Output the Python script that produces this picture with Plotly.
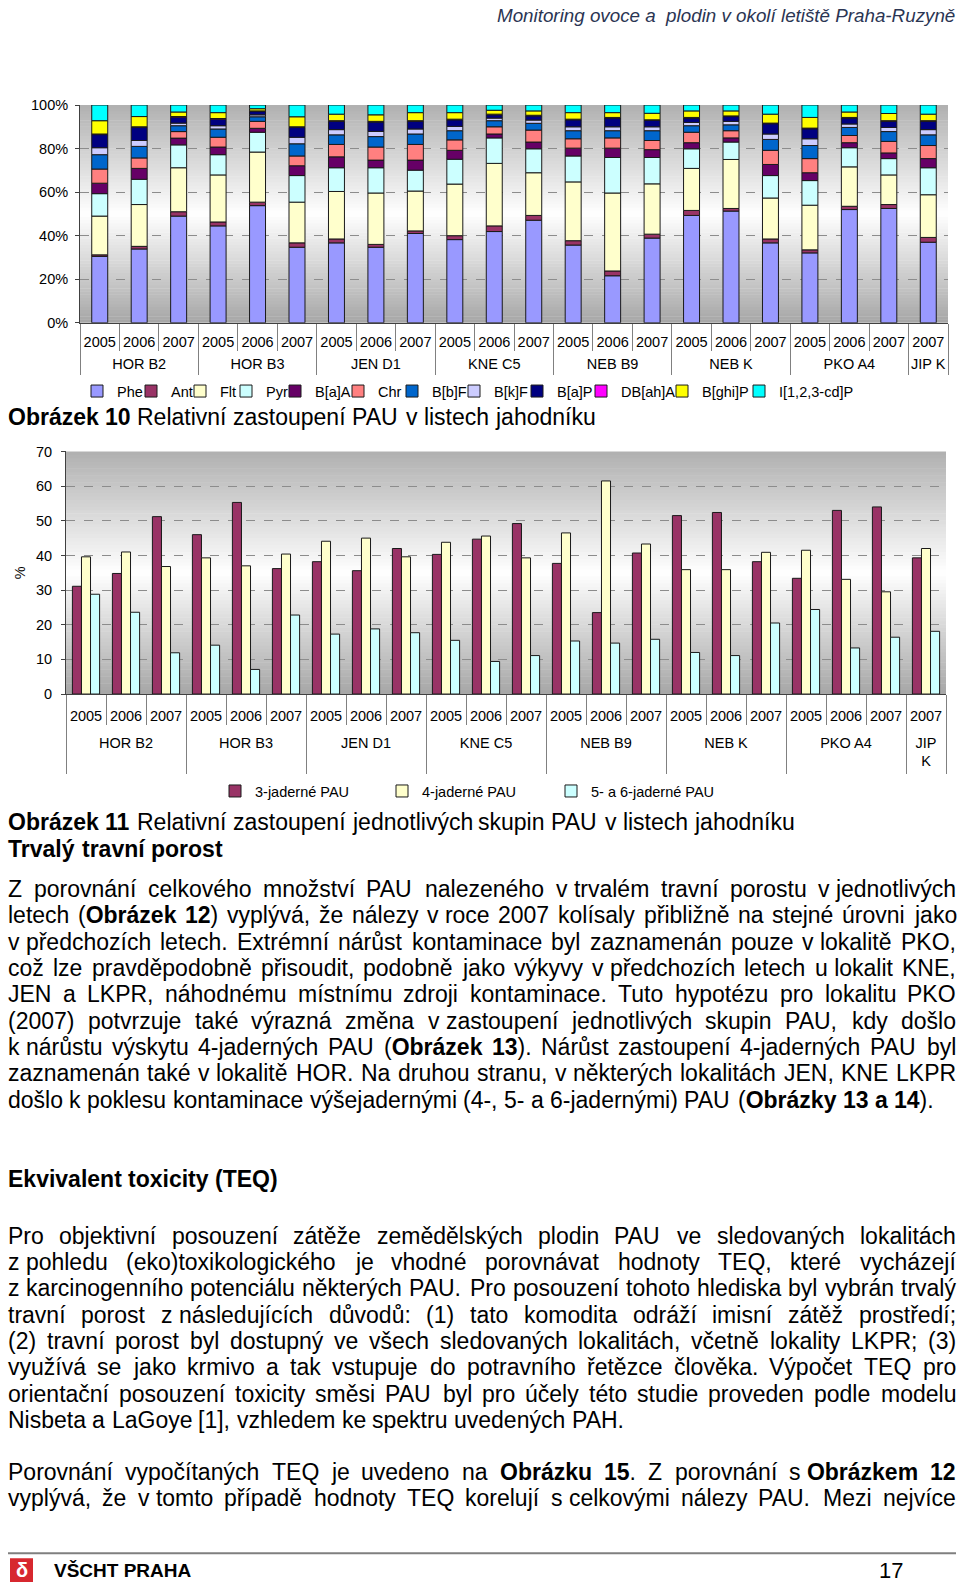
import unicodedata
import numpy as np
import plotly.graph_objects as go

W, H = 960, 1591
FONT = "Liberation Sans, Arial, sans-serif"

# ------------------------------------------------------------------ data
site_names = ["HOR B2", "HOR B3", "JEN D1", "KNE C5", "NEB B9", "NEB K", "PKO A4", "JIP K"]
site_names2 = ["HOR B2", "HOR B3", "JEN D1", "KNE C5", "NEB B9", "NEB K", "PKO A4", "JIP<br>K"]
site_sizes = [3, 3, 3, 3, 3, 3, 3, 1]
years = ["2005", "2006", "2007", "2005", "2006", "2007", "2005", "2006", "2007",
         "2005", "2006", "2007", "2005", "2006", "2007", "2005", "2006", "2007",
         "2005", "2006", "2007", "2007"]

compounds = ["Phe", "Ant", "Flt", "Pyr", "B[a]A", "Chr", "B[b]F", "B[k]F",
             "B[a]P", "DB[ah]A", "B[ghi]P", "I[1,2,3-cd]P"]
colors1 = ["#9999FF", "#993366", "#FFFFCC", "#CCFFFF", "#660066", "#FF8080",
           "#0066CC", "#CCCCFF", "#000080", "#FF00FF", "#FFFF00", "#00FFFF"]

phe = [30.5, 33.9, 49.0, 44.5, 53.8, 34.7, 36.7, 34.7, 41.0, 38.2, 41.9, 47.1, 35.7, 21.6, 38.9, 49.3, 51.3, 36.7, 32.1, 52.0, 52.5, 37.0]
ant = [0.7, 1.2, 2.0, 1.8, 1.6, 2.0, 1.8, 1.3, 1.2, 1.8, 2.6, 2.2, 2.0, 2.2, 1.8, 2.3, 1.2, 1.8, 1.4, 1.5, 1.8, 2.2]
flt = [17.8, 19.2, 20.2, 21.6, 23.0, 18.7, 21.8, 23.6, 18.3, 23.7, 28.7, 19.6, 27.0, 35.8, 23.1, 19.3, 22.5, 18.8, 20.5, 18.1, 13.6, 19.6]
pyr = [10.3, 11.6, 10.5, 9.3, 9.1, 12.2, 10.9, 11.6, 9.6, 11.4, 11.7, 11.0, 11.9, 16.3, 12.1, 9.0, 8.0, 10.3, 11.3, 8.8, 7.5, 12.4]
baa = [4.8, 5.0, 3.1, 3.5, 1.8, 4.5, 5.0, 3.5, 4.6, 4.1, 1.8, 3.1, 3.6, 4.3, 3.6, 2.8, 1.9, 5.1, 3.6, 2.3, 2.6, 4.2]
chry = [6.5, 4.8, 3.0, 4.5, 3.2, 4.5, 5.7, 6.0, 7.2, 4.8, 3.3, 5.5, 4.3, 4.7, 4.2, 4.8, 3.3, 6.5, 6.5, 3.3, 5.3, 6.0]
bbf = [6.6, 5.3, 2.7, 3.8, 2.1, 5.6, 4.4, 4.8, 4.8, 4.2, 2.8, 3.1, 3.7, 3.3, 4.5, 3.0, 2.7, 5.0, 6.0, 3.7, 4.5, 4.9]
bkf = [3.2, 2.7, 1.2, 1.5, 0.9, 3.0, 2.4, 2.4, 2.3, 2.0, 1.2, 1.5, 1.8, 1.8, 1.8, 1.5, 1.6, 2.5, 3.1, 1.6, 1.9, 2.4]
bap = [6.0, 6.0, 2.7, 3.0, 1.5, 4.5, 3.8, 4.3, 3.5, 3.0, 1.5, 1.9, 3.2, 4.0, 2.9, 2.0, 2.2, 4.7, 4.6, 2.7, 2.8, 3.8]
dbaha = [0.3, 0.3, 0.3, 0.3, 0.3, 0.3, 0.3, 0.3, 0.3, 0.3, 0.3, 0.3, 0.3, 0.3, 0.3, 0.3, 0.3, 0.3, 0.3, 0.3, 0.3, 0.3]
bghi = [6.1, 4.7, 2.1, 2.7, 1.0, 4.6, 3.0, 3.0, 3.7, 3.0, 1.8, 2.0, 3.0, 2.2, 3.0, 3.0, 2.3, 4.1, 4.9, 2.5, 3.3, 3.0]
icdp = [7.2, 5.3, 3.2, 3.5, 1.7, 5.4, 4.2, 4.5, 3.5, 3.5, 2.4, 2.7, 3.5, 3.5, 3.8, 2.7, 2.7, 4.2, 5.7, 3.2, 3.9, 4.2]

groups = ["3-jaderné PAU", "4-jaderné PAU", "5- a 6-jaderné PAU"]
colors2 = ["#993366", "#FFFFCC", "#CCFFFF"]
tri = [31.1, 34.8, 51.2, 46.0, 55.3, 36.2, 38.2, 35.6, 42.0, 40.3, 44.7, 49.2, 37.7, 23.5, 40.7, 51.5, 52.4, 38.2, 33.4, 53.0, 54.0, 39.3]
tetra = [39.6, 41.0, 36.8, 39.3, 37.0, 40.4, 44.1, 45.0, 39.6, 43.8, 45.6, 39.3, 46.5, 61.5, 43.3, 35.9, 35.9, 40.9, 41.5, 33.1, 29.5, 42.0]
penta = [28.8, 23.6, 11.9, 14.1, 7.1, 22.8, 17.3, 18.8, 17.7, 15.5, 9.4, 11.1, 15.3, 14.7, 15.8, 12.0, 11.1, 20.5, 24.4, 13.3, 16.4, 18.1]

yticks1 = [0, 20, 40, 60, 80, 100]
yticks1_text = ["0%", "20%", "40%", "60%", "80%", "100%"]
yticks2 = [0, 10, 20, 30, 40, 50, 60, 70]

# ------------------------------------------------------------------ text
header = "Monitoring ovoce a\u00a0 plodin v okolí letiště Praha-Ruzyně"
cap10 = "*Obrázek 10* Relativní zastoupení PAU v listech jahodníku"
cap11 = "*Obrázek 11* Relativní zastoupení jednotlivých skupin PAU v listech jahodníku"
sub11 = "*Trvalý travní porost*"
para1 = [
    "Z porovnání celkového množství PAU nalezeného v trvalém travní porostu v jednotlivých",
    "letech (*Obrázek 12*) vyplývá, že nálezy v roce 2007 kolísaly přibližně na stejné úrovni jako",
    "v předchozích letech. Extrémní nárůst kontaminace byl zaznamenán pouze v lokalitě PKO,",
    "což lze pravděpodobně přisoudit, podobně jako výkyvy v předchozích letech u lokalit KNE,",
    "JEN a LKPR, náhodnému místnímu zdroji kontaminace. Tuto hypotézu pro lokalitu PKO",
    "(2007) potvrzuje také výrazná změna v zastoupení jednotlivých skupin PAU, kdy došlo",
    "k nárůstu výskytu 4-jaderných PAU (*Obrázek 13*). Nárůst zastoupení 4-jaderných PAU byl",
    "zaznamenán také v lokalitě HOR. Na druhou stranu, v některých lokalitách JEN, KNE  LKPR",
    "došlo k poklesu kontaminace výšejadernými (4-, 5- a 6-jadernými) PAU (*Obrázky 13 a 14*).",
]
head2 = "*Ekvivalent toxicity (TEQ)*"
para2 = [
    "Pro objektivní posouzení zátěže zemědělských plodin PAU ve sledovaných lokalitách",
    "z pohledu (eko)toxikologického je vhodné porovnávat hodnoty TEQ, které vycházejí",
    "z karcinogenního potenciálu některých PAU. Pro posouzení tohoto hlediska byl vybrán trvalý",
    "travní porost z následujících důvodů: (1) tato komodita odráží imisní zátěž prostředí;",
    "(2) travní porost byl dostupný ve všech sledovaných lokalitách, včetně lokality LKPR; (3)",
    "využívá se jako krmivo a tak vstupuje do potravního řetězce člověka. Výpočet TEQ pro",
    "orientační posouzení toxicity směsi PAU byl pro účely této studie proveden podle modelu",
    "Nisbeta a LaGoye [1], vzhledem ke spektru uvedených PAH.",
]
para3 = [
    "Porovnání vypočítaných TEQ je uvedeno na *Obrázku 15*. Z porovnání s *Obrázkem 12*",
    "vyplývá, že v tomto případě hodnoty TEQ korelují s celkovými nálezy PAU. Mezi nejvíce",
]

# ------------------------------------------------------------------ helpers
REG = {' ': 278, '(': 333, ')': 333, ',': 278, '-': 333, '.': 278, ':': 278, ';': 278,
       '[': 278, ']': 278, '0': 556, '1': 556, '2': 556, '3': 556, '4': 556, '5': 556,
       '6': 556, '7': 556, '8': 556, '9': 556,
       'A': 667, 'B': 667, 'C': 722, 'D': 722, 'E': 667, 'F': 611, 'G': 778, 'H': 722,
       'I': 278, 'J': 500, 'K': 667, 'L': 556, 'M': 833, 'N': 722, 'O': 778, 'P': 667,
       'Q': 778, 'R': 722, 'S': 667, 'T': 611, 'U': 722, 'V': 667, 'W': 944, 'X': 667,
       'Y': 667, 'Z': 611,
       'a': 556, 'b': 556, 'c': 500, 'd': 556, 'e': 556, 'f': 278, 'g': 556, 'h': 556,
       'i': 222, 'j': 222, 'k': 500, 'l': 222, 'm': 833, 'n': 556, 'o': 556, 'p': 556,
       'q': 556, 'r': 333, 's': 500, 't': 278, 'u': 556, 'v': 500, 'w': 722, 'x': 500,
       'y': 500, 'z': 500, 'í': 278}
BOLD = {' ': 278, '(': 333, ')': 333, ',': 278, '-': 333, '.': 278, ':': 333, ';': 333,
        '[': 333, ']': 333, '0': 556, '1': 556, '2': 556, '3': 556, '4': 556, '5': 556,
        '6': 556, '7': 556, '8': 556, '9': 556,
        'A': 722, 'B': 722, 'C': 722, 'D': 722, 'E': 667, 'F': 611, 'G': 778, 'H': 722,
        'I': 278, 'J': 556, 'K': 722, 'L': 611, 'M': 833, 'N': 722, 'O': 778, 'P': 667,
        'Q': 778, 'R': 722, 'S': 667, 'T': 611, 'U': 722, 'V': 667, 'W': 944, 'X': 667,
        'Y': 667, 'Z': 611,
        'a': 556, 'b': 611, 'c': 556, 'd': 611, 'e': 556, 'f': 333, 'g': 611, 'h': 611,
        'i': 278, 'j': 278, 'k': 556, 'l': 278, 'm': 889, 'n': 611, 'o': 611, 'p': 611,
        'q': 611, 'r': 389, 's': 556, 't': 333, 'u': 611, 'v': 556, 'w': 778, 'x': 556,
        'y': 556, 'z': 500, 'í': 278}
GLUE = {"v", "k", "s", "z", "u"}


def px(x):
    return x / W


def py(y):
    return 1 - y / H


def char_w(ch, bold):
    tbl = BOLD if bold else REG
    if ch in tbl:
        return tbl[ch]
    base = unicodedata.normalize("NFD", ch)[0]
    return tbl.get(base, 556)


def parse_tokens(line):
    chars, bold = [], False
    for ch in line:
        if ch == "*":
            bold = not bold
            continue
        chars.append((ch, bold))
    words, cur = [], []
    for ch, b in chars:
        if ch == " ":
            if cur:
                words.append(cur)
                cur = []
        else:
            cur.append((ch, b))
    if cur:
        words.append(cur)
    merged, i = [], 0
    while i < len(words):
        w = words[i]
        txt = "".join(c for c, _ in w)
        if txt in GLUE and i + 1 < len(words):
            w = w + [(" ", False)] + words[i + 1]
            i += 2
        else:
            i += 1
        merged.append(w)
    return merged


def tok_html(tok):
    out, buf, curb = "", "", None
    for ch, b in tok:
        if b != curb:
            if buf:
                out += f"<b>{buf}</b>" if curb else buf
            buf, curb = "", b
        buf += ch
    if buf:
        out += f"<b>{buf}</b>" if curb else buf
    return out


annotations = []
FS = 23


def add_line(line, y, justify=True, fs=FS, left=8, right=956):
    toks = parse_tokens(line)
    widths = [sum(char_w(c, b) for c, b in t) * fs / 1000 for t in toks]
    if justify and len(toks) > 1:
        gap = (right - left - sum(widths)) / (len(toks) - 1)
    else:
        gap = 278 * fs / 1000
    x = left
    for t, w in zip(toks, widths):
        annotations.append(dict(x=px(x), y=py(y), xref="paper", yref="paper",
                                text=tok_html(t), showarrow=False, xanchor="left",
                                yanchor="middle", borderpad=0, borderwidth=0,
                                font=dict(family=FONT, size=fs, color="black")))
        x += w + gap


# ------------------------------------------------------------------ geometry
c1_x = [px(80), px(948)]
c1_y = [py(318), py(98)]
c2_x = [px(66), px(946)]
c2_y = [py(693), py(448)]

idx = np.arange(len(years))
bounds = np.arange(len(years) + 1) - 0.5
edges = np.concatenate([[0], np.cumsum(site_sizes)])
gbounds = edges - 0.5
centers = (edges[:-1] + edges[1:] - 1) / 2.0

fig = go.Figure()

# ---- chart 1: stacked 100 % bars
comp_vals = np.array([phe, ant, flt, pyr, baa, chry, bbf, bkf, bap, dbaha, bghi, icdp])
bases = np.vstack([np.zeros(len(years)), np.cumsum(comp_vals, axis=0)[:-1]])
leg1_text_x = [118, 172, 221, 267, 316, 379, 433, 495, 558, 622, 703, 780]
for i, name in enumerate(compounds):
    fig.add_trace(go.Bar(
        x=idx, y=comp_vals[i], base=bases[i], name=name, width=0.405, offset=-0.2025,
        marker=dict(color=colors1[i], line=dict(color="#1a1a1a", width=1)),
        xaxis="x", yaxis="y", legend="legend" if i == 0 else f"legend{i + 1}",
        hoverinfo="skip"))

# ---- chart 2: grouped bars
leg2_text_x = [256, 423, 592]
for j, (name, vals) in enumerate(zip(groups, [tri, tetra, penta])):
    fig.add_trace(go.Bar(
        x=idx, y=vals, name=name,
        marker=dict(color=colors2[j], line=dict(color="#1a1a1a", width=1)),
        xaxis="x2", yaxis="y2", legend=f"legend{13 + j}", hoverinfo="skip"))

# invisible carriers so that the site-level axes are drawn
fig.add_trace(go.Scatter(x=centers, y=[None] * len(centers), xaxis="x3", yaxis="y",
                         mode="markers", showlegend=False, hoverinfo="skip"))
fig.add_trace(go.Scatter(x=centers, y=[None] * len(centers), xaxis="x4", yaxis="y2",
                         mode="markers", showlegend=False, hoverinfo="skip"))

# ---- gradient backgrounds
shapes = []


def gradient(xr, yr, top=176, bottom=166, n=70):
    for k in range(n):
        t0, t1 = k / n, (k + 1) / n
        tm = (t0 + t1) / 2
        edge = bottom if tm < 0.5 else top
        d = abs(tm - 0.5) * 2
        g = int(round(255 - (255 - edge) * d))
        shapes.append(dict(type="rect", xref=f"{xr} domain", yref=f"{yr} domain",
                           x0=0, x1=1, y0=t0, y1=min(1, t1 + 0.002),
                           fillcolor=f"rgb({g},{g},{g})", line=dict(width=0),
                           layer="below"))


gradient("x", "y")
gradient("x2", "y2")

# footer line + logo
shapes.append(dict(type="line", xref="paper", yref="paper", x0=px(8), x1=px(956),
                   y0=py(1561), y1=py(1561), line=dict(color="#7f7f7f", width=2)))
shapes.append(dict(type="rect", xref="paper", yref="paper", x0=px(10), x1=px(33),
                   y0=py(1590), y1=py(1566), fillcolor="#D7282F", line=dict(width=0)))

# ---- legends
legends = {}
for i, tx in enumerate(leg1_text_x):
    key = "legend" if i == 0 else f"legend{i + 1}"
    legends[key] = dict(x=px(tx - 41), y=py(387), xanchor="left", yanchor="middle",
                        orientation="h", bgcolor="rgba(0,0,0,0)", borderwidth=0,
                        font=dict(family=FONT, size=14.5, color="black"))
for j, tx in enumerate(leg2_text_x):
    legends[f"legend{13 + j}"] = dict(x=px(tx - 41), y=py(791), xanchor="left",
                                      yanchor="middle", orientation="h",
                                      bgcolor="rgba(0,0,0,0)", borderwidth=0,
                                      font=dict(family=FONT, size=14.5, color="black"))

# ---- text
LS = 26.6
add_line(cap10, 413, justify=False)
add_line(cap11, 822, justify=False)
add_line(sub11, 850, justify=False)
for k, ln in enumerate(para1):
    add_line(ln, 890 + LS * k, justify=(k < len(para1) - 1))
add_line(head2, 1183, justify=False)
for k, ln in enumerate(para2):
    add_line(ln, 1240 + LS * k, justify=(k < len(para2) - 1))
for k, ln in enumerate(para3):
    add_line(ln, 1479 + LS * k, justify=True)

annotations.append(dict(x=px(956), y=py(8), xref="paper", yref="paper", text=f"<i>{header}</i>",
                        showarrow=False, xanchor="right", yanchor="middle", borderpad=0,
                        font=dict(family=FONT, size=18.8, color="#2b3553")))
annotations.append(dict(x=px(21.5), y=py(1578), xref="paper", yref="paper", text="<b>δ</b>",
                        showarrow=False, xanchor="center", yanchor="middle", borderpad=0,
                        font=dict(family=FONT, size=20, color="white")))
annotations.append(dict(x=px(53), y=py(1578), xref="paper", yref="paper", text="<b>VŠCHT PRAHA</b>",
                        showarrow=False, xanchor="left", yanchor="middle", borderpad=0,
                        font=dict(family=FONT, size=19, color="black")))
annotations.append(dict(x=px(904), y=py(1578), xref="paper", yref="paper", text="17",
                        showarrow=False, xanchor="right", yanchor="middle", borderpad=0,
                        font=dict(family=FONT, size=22, color="black")))

tickfont = dict(family=FONT, size=14.5, color="black")
common_x = dict(range=[-0.5, len(years) - 0.5], showgrid=False, zeroline=False,
                fixedrange=True, tickfont=tickfont)

fig.update_layout(
    width=W, height=H, margin=dict(l=0, r=0, t=0, b=0),
    paper_bgcolor="white", plot_bgcolor="rgba(0,0,0,0)",
    barmode="group", bargap=0.32, bargroupgap=0,
    font=dict(family=FONT, size=14.5, color="black"),
    showlegend=True, shapes=shapes, annotations=annotations,
    xaxis=dict(domain=c1_x, anchor="y", tickmode="array", tickvals=idx, ticktext=years,
               ticks="", showline=True, linecolor="#404040", linewidth=1,
               ticklabelstandoff=6,
               minor=dict(tickmode="array", tickvals=bounds, ticks="outside", ticklen=27,
                          tickcolor="#808080", tickwidth=1, showgrid=False),
               **common_x),
    xaxis3=dict(overlaying="x", anchor="free", position=c1_y[0], side="bottom",
                tickmode="array", tickvals=centers, ticktext=site_names, ticks="",
                showline=False, ticklabelstandoff=31,
                minor=dict(tickmode="array", tickvals=gbounds, ticks="outside", ticklen=51,
                           tickcolor="#808080", tickwidth=1, showgrid=False),
                **common_x),
    yaxis=dict(domain=c1_y, anchor="x", range=[0, 100], tickmode="array",
               tickvals=yticks1, ticktext=yticks1_text, showgrid=True,
               gridcolor="#8c8c8c", griddash="dash", gridwidth=1, showline=True,
               linecolor="#404040", ticks="outside", ticklen=4, tickcolor="#404040",
               zeroline=False, ticklabelstandoff=4, fixedrange=True, tickfont=tickfont),
    xaxis2=dict(domain=c2_x, anchor="y2", tickmode="array", tickvals=idx, ticktext=years,
                ticks="", showline=True, linecolor="#404040", linewidth=1,
                ticklabelstandoff=9,
                minor=dict(tickmode="array", tickvals=bounds, ticks="outside", ticklen=30,
                           tickcolor="#808080", tickwidth=1, showgrid=False),
                **common_x),
    xaxis4=dict(overlaying="x2", anchor="free", position=c2_y[0], side="bottom",
                tickmode="array", tickvals=centers, ticktext=site_names2, ticks="",
                showline=False, ticklabelstandoff=38,
                minor=dict(tickmode="array", tickvals=gbounds, ticks="outside", ticklen=79,
                           tickcolor="#808080", tickwidth=1, showgrid=False),
                **common_x),
    yaxis2=dict(domain=c2_y, anchor="x2", range=[0, 70], tickmode="array",
                tickvals=yticks2, showgrid=True,
                gridcolor="#8c8c8c", griddash="dash", gridwidth=1, showline=True,
                linecolor="#404040", ticks="outside", ticklen=4, tickcolor="#404040",
                zeroline=False, ticklabelstandoff=6, fixedrange=True, tickfont=tickfont,
                title=dict(text="%", font=dict(family=FONT, size=14.5), standoff=6)),
    **legends,
)

# the page has no body margin / scrollbars so the figure fills the 960x1591 window exactly
fig.write_html(
    "out.html",
    config={"displayModeBar": False},
    post_script="document.documentElement.style.margin='0';document.body.style.margin='0';"
                "document.documentElement.style.overflow='hidden';document.body.style.overflow='hidden';",
)
